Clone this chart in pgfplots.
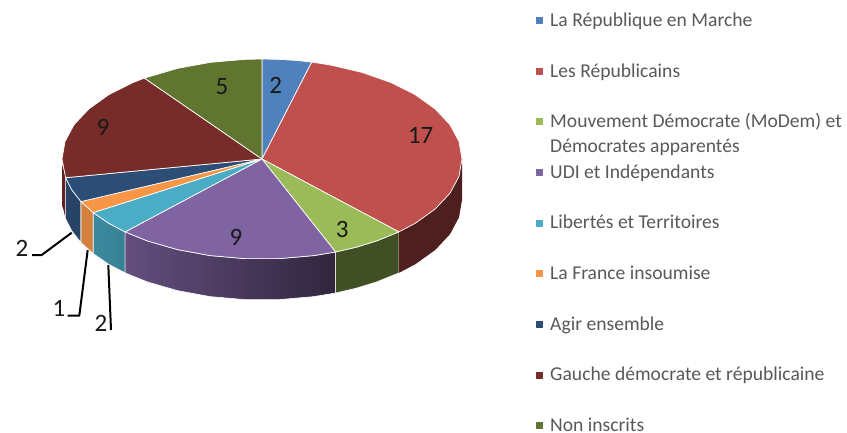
\documentclass[border=0pt]{standalone}
\usepackage{pgfplots}
\pgfplotsset{compat=1.18}
\usepackage{fontspec}
\setmainfont{Carlito}
\definecolor{c1}{HTML}{4F81BD}
\definecolor{c2}{HTML}{C0504D}
\definecolor{c3}{HTML}{9BBB59}
\definecolor{c4}{HTML}{8064A2}
\definecolor{c5}{HTML}{4BACC6}
\definecolor{c6}{HTML}{F79646}
\definecolor{c7}{HTML}{2C4D75}
\definecolor{c8}{HTML}{772C2A}
\definecolor{c9}{HTML}{5F7530}
\definecolor{txt}{HTML}{595959}
\newcommand{\legitem}[3]{%
  \addplot[only marks, mark=square*, mark size=3pt, color=#1,
    nodes near coords={\textcolor{txt}{#3}},
    nodes near coords style={anchor=base west, inner sep=0pt, xshift=10.5pt, yshift=-6pt, font=\fontsize{19.6}{20}\selectfont, text=txt}]
    coordinates {(539.5,#2)};}
\begin{document}
\begin{tikzpicture}
\begin{axis}[
  scale only axis, width=847pt, height=432pt,
  xmin=0, xmax=847, ymin=0, ymax=432, y dir=reverse,
  hide axis, clip=false,
  every axis plot/.append style={line join=round}]
% page
\addplot[fill=white, draw=none] coordinates {(0,0)(847,0)(847,432)(0,432)} --cycle;
% walls
\addplot[fill=c8!80!black, draw=none] coordinates {(65.6,177.7)(63.3,168)(62.2,165)(62.2,206)(63.3,209)(65.6,218.7)} --cycle;
\addplot[fill=c7!88!black, draw=white, line width=0.6pt] coordinates {(81,201.6)(71.8,189.9)(65.6,177.7)(65.6,218.7)(71.8,230.9)(81,242.6)} --cycle;
\addplot[fill=c6!85!black, draw=white, line width=0.6pt] coordinates {(93.2,212.6)(81,201.6)(81,242.6)(93.2,253.6)} --cycle;
\addplot[left color=c5!80!black, right color=c5!75!black, draw=white, line width=0.6pt] coordinates {(125.1,231.9)(108.8,223.3)(93.2,212.6)(93.2,253.6)(108.8,264.3)(125.1,272.9)} --cycle;
\addplot[left color=c4!78!black, right color=c4!38!black, draw=white, line width=0.6pt] coordinates {(335.6,252)(313.8,255.6)(279.4,258.6)(244.6,258.6)(210.2,255.6)(177.5,249.6)(147.3,240.9)(125.1,231.9)(125.1,272.9)(147.3,281.9)(177.5,290.6)(210.2,296.6)(244.6,299.6)(279.4,299.6)(313.8,296.6)(335.6,293)} --cycle;
\addplot[fill=c3!42!black, draw=white, line width=0.6pt] coordinates {(398.9,231.9)(376.7,240.9)(355.9,247.3)(335.6,252)(335.6,293)(355.9,288.3)(376.7,281.9)(398.9,272.9)} --cycle;
\addplot[fill=c2!40!black, draw=none] coordinates {(462,159)(459,176.4)(450,193.2)(435.2,209)(415.2,223.3)(398.9,231.9)(398.9,272.9)(415.2,264.3)(435.2,250)(450,234.2)(459,217.4)(462,200)} --cycle;
% top
\addplot[fill=c1, draw=white, line width=0.7pt] coordinates {(262,159)(262,59)(279.4,59.4)(296.7,60.5)(311.7,62.1)} --cycle;
\addplot[fill=c2, draw=white, line width=0.7pt] coordinates {(262,159)(311.7,62.1)(330.4,65)(362,72.4)(390.6,82.4)(415.2,94.7)(435.2,109)(450,124.8)(459,141.6)(462,159)(459,176.4)(450,193.2)(435.2,209)(415.2,223.3)(398.9,231.9)} --cycle;
\addplot[fill=c3, draw=white, line width=0.7pt] coordinates {(262,159)(398.9,231.9)(376.7,240.9)(355.9,247.3)(335.6,252)} --cycle;
\addplot[fill=c4, draw=white, line width=0.7pt] coordinates {(262,159)(335.6,252)(313.8,255.6)(279.4,258.6)(244.6,258.6)(210.2,255.6)(177.5,249.6)(147.3,240.9)(125.1,231.9)} --cycle;
\addplot[fill=c5, draw=white, line width=0.7pt] coordinates {(262,159)(125.1,231.9)(108.8,223.3)(93.2,212.6)} --cycle;
\addplot[fill=c6, draw=white, line width=0.7pt] coordinates {(262,159)(93.2,212.6)(81,201.6)} --cycle;
\addplot[fill=c7, draw=white, line width=0.7pt] coordinates {(262,159)(81,201.6)(71.8,189.9)(65.6,177.7)} --cycle;
\addplot[fill=c8, draw=white, line width=0.7pt] coordinates {(262,159)(65.6,177.7)(62,159)(65,141.6)(74,124.8)(88.8,109)(108.8,94.7)(133.4,82.4)(144.4,78.1)} --cycle;
\addplot[fill=c9, draw=white, line width=0.7pt] coordinates {(262,159)(144.4,78.1)(177.5,68.4)(210.2,62.4)(244.6,59.4)(262,59)} --cycle;
% leader lines
\addplot[black, line width=2pt] coordinates {(71.7,232.7)(41.7,255)(32,255)};
\addplot[black, line width=2pt] coordinates {(87.7,250)(79.3,315.7)(67.7,315.7)};
\addplot[black, line width=2pt] coordinates {(108.3,265)(111,330)};
% data labels
\addplot[only marks, mark=none, point meta=explicit symbolic, nodes near coords,
  nodes near coords style={anchor=center, inner sep=0pt, text=black!90, font=\fontsize{25}{25}\selectfont}]
  coordinates {(275.7,85)[2] (420.7,135)[17] (342.3,229)[3] (236,237)[9] (222,87)[5] (103,127)[9] (22,248)[2] (59,308)[1] (101,323)[2]};
% legend
\legitem{c1}{20}{La République en Marche}
\legitem{c2}{71}{Les Républicains}
\legitem{c3}{121.6}{Mouvement Démocrate (MoDem) et}
\legitem{c4}{172}{UDI et Indépendants}
\legitem{c5}{222.7}{Libertés et Territoires}
\legitem{c6}{273.3}{La France insoumise}
\legitem{c7}{324}{Agir ensemble}
\legitem{c8}{374.7}{Gauche démocrate et républicaine}
\legitem{c9}{425.3}{Non inscrits}
\addplot[only marks, mark=none, point meta=explicit symbolic, nodes near coords,
  nodes near coords style={anchor=base west, inner sep=0pt, xshift=10.5pt, yshift=-6pt, text=txt, font=\fontsize{19.6}{20}\selectfont}]
  coordinates {(539.5,146)[Démocrates apparentés]};
\end{axis}
\end{tikzpicture}
\end{document}
